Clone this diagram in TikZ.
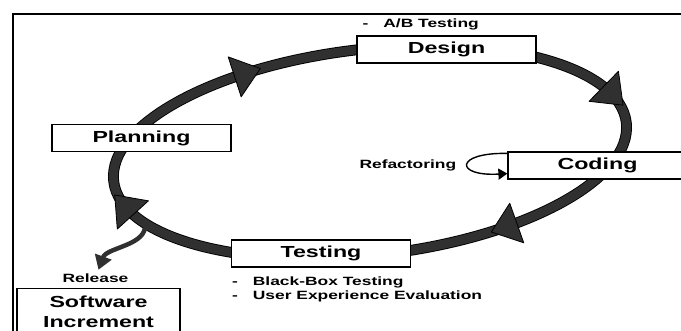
\documentclass[tikz,border=0pt]{standalone}
\usepackage{fontspec}
\setmainfont{Liberation Sans}[FakeStretch=1.45]
\usetikzlibrary{arrows.meta,positioning}
\definecolor{ringgray}{HTML}{303030}

\begin{document}
\begin{tikzpicture}[
		x=1pt,y=1pt,
		phase/.style={draw,line width=1.2pt,fill=white,rectangle,minimum width=179pt,minimum height=27pt,inner sep=0pt,font=\fontsize{16}{20}\selectfont\bfseries},
		note/.style={inner sep=0pt,font=\fontsize{12}{14.5}\selectfont\bfseries,align=left},
		ring/.style={draw=black,line width=0.9pt,double=ringgray,double distance=9pt},
		ringtip/.style={draw=black,line width=0.8pt,fill=ringgray,line join=round}
		]
	\useasboundingbox (0,0) rectangle (681,331);
	
	% Frame
	\draw[line width=1.6pt] (13,-10) -- (13,317) -- (700,317);
	
	% Cycle
	\begin{scope}[shift={(370,179)},rotate=6.5]
		\draw[ring] (0,0) ellipse [x radius=258,y radius=103];
		\foreach \t in {18,117,196,300} {
			\pgfmathsetmacro{\ang}{atan2(-103*cos(\t),258*sin(\t))}
			\draw[ringtip,shift={({258*cos(\t)},{103*sin(\t)})},rotate=\ang] (18,0) -- (-9,21) -- (-9,-21) -- cycle;
		}
	\end{scope}
	
	% Phases
	\node[phase] (design) at (446.5,281.5) {Design};
	\node[phase] (planning) at (141.5,193) {Planning};
	\node[phase] (coding) at (597.5,165.5) {Coding};
	\node[phase] (testing) at (321,77.5) {Testing};
	\node[phase,minimum width=163pt,minimum height=46pt,align=center,anchor=north] (increment) at (98.5,43) {Software\\Increment};
	
	% Notes
	\node[note,above=5.5pt of design.north west,anchor=south west,xshift=6pt] (abtest) {-\hspace{15pt}A/B Testing};
	\node[note,below=9pt of testing.south west,anchor=north west,xshift=1pt] (testnotes) {-\hspace{15pt}Black-Box Testing\\-\hspace{15pt}User Experience Evaluation};
	\node[note,left=51pt of coding] (refactor) {Refactoring};
	\node[note,above=5pt of increment,xshift=-3pt] (release) {Release};
	
	% Refactoring loop
	\draw[line width=1.4pt,-{Triangle[length=9pt,width=11pt]}] ([yshift=-2pt]coding.north west) .. controls +(-53,1) and +(-53,-3) .. ([yshift=6pt]coding.south west);
	
	% Release
	\coordinate (relfrom) at (145,103);
	\draw[ringgray,line width=4.5pt,-{Triangle[length=14pt,width=17pt]}] (relfrom) .. controls +(-3,-18) and +(8,22) .. ([xshift=3pt,yshift=4pt]release.north);
	
\end{tikzpicture}
\end{document}
